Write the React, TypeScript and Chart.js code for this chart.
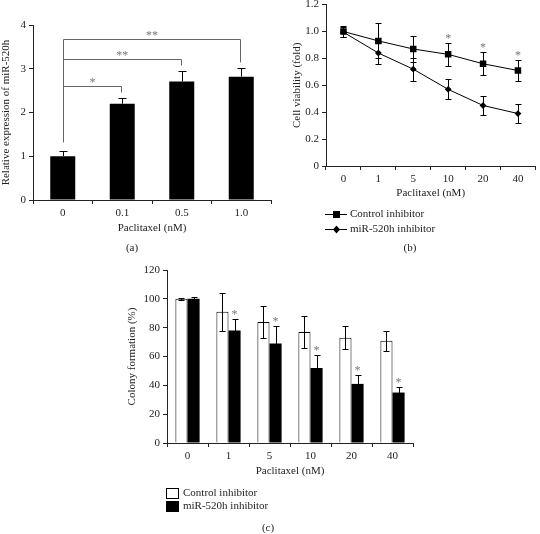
import React, { useEffect, useRef } from 'react';
import { Chart, registerables } from 'chart.js';
Chart.register(...registerables);

const FONT = "'Liberation Serif', 'Times New Roman', serif";
const TXT = '#222';
const AX = '#222';
const SIG = '#777';

// ---------- Panel (a) ----------
const doseA = ['0', '0.1', '0.5', '1.0'];
const exprA = [1.0, 2.2, 2.71, 2.82];
const exprErrA = [0.11, 0.14, 0.23, 0.19];
const bracketToA = [1, 2, 3];
const bracketLevelA = [2.61, 3.22, 3.68];
const bracketDropA = [2.48, 3.08, 3.15];
const bracketLabelA = ['*', '**', '**'];
const bracketStartA = 1.33;

// ---------- Panel (b) ----------
const doseB = ['0', '1', '5', '10', '20', '40'];
const viabCtrl = [1.0, 0.93, 0.87, 0.83, 0.76, 0.71];
const viabCtrlErr = [0.04, 0.13, 0.095, 0.085, 0.085, 0.075];
const viabMir = [0.995, 0.84, 0.72, 0.57, 0.45, 0.39];
const viabMirErr = [0.035, 0.08, 0.085, 0.075, 0.07, 0.07];
const viabSig = ['', '', '', '*', '*', '*'];

// ---------- Panel (c) ----------
const doseC = ['0', '1', '5', '10', '20', '40'];
const colCtrl = [100, 91, 84, 77, 73, 71];
const colCtrlErr = [0.8, 13, 11, 11, 8, 7];
const colMir = [100, 78, 69, 52, 41, 35];
const colMirErr = [1.4, 8, 12, 9, 6, 4];
const colSig = ['', '*', '*', '*', '*', '*'];

const seriesNames = ['Control inhibitor', 'miR-520h inhibitor'];

const font = (size = 11) => ({ family: FONT, size });

const errorBarPlugin = {
  id: 'errorBars',
  afterDatasetsDraw(chart: any, _args: any, opts: any) {
    const { ctx } = chart;
    const ys = chart.scales.y;
    const errs: number[][] = opts.errors || [];
    const cap: number = opts.cap || 3;
    errs.forEach((arr, di) => {
      const meta = chart.getDatasetMeta(di);
      const ds = chart.data.datasets[di];
      const lower = opts.lower ? opts.lower[di] : true;
      meta.data.forEach((el: any, i: number) => {
        const v = ds.data[i] as number;
        const e = arr[i];
        const x = Math.round(el.x) + 0.5;
        const yT = Math.round(ys.getPixelForValue(v + e)) + 0.5;
        const yB = Math.round(ys.getPixelForValue(v - e)) + 0.5;
        const yM = ys.getPixelForValue(v);
        ctx.save();
        ctx.strokeStyle = opts.color || '#000';
        ctx.lineWidth = 1;
        ctx.beginPath();
        ctx.moveTo(x, yT);
        ctx.lineTo(x, lower ? yB : yM);
        ctx.moveTo(x - cap, yT);
        ctx.lineTo(x + cap, yT);
        if (lower) {
          ctx.moveTo(x - cap, yB);
          ctx.lineTo(x + cap, yB);
        }
        ctx.stroke();
        ctx.restore();
      });
    });
  },
};

function drawStar(ctx: CanvasRenderingContext2D, text: string, x: number, yCenter: number) {
  ctx.save();
  ctx.fillStyle = SIG;
  ctx.font = `12px ${FONT}`;
  ctx.textAlign = 'center';
  ctx.textBaseline = 'alphabetic';
  ctx.fillText(text, x, yCenter + 6);
  ctx.restore();
}

function drawLabel(ctx: CanvasRenderingContext2D, text: string, x: number, y: number, align: CanvasTextAlign = 'center') {
  ctx.save();
  ctx.fillStyle = TXT;
  ctx.font = `11px ${FONT}`;
  ctx.textAlign = align;
  ctx.textBaseline = 'middle';
  ctx.fillText(text, x, y);
  ctx.restore();
}

const axisCommon = (extra: any = {}) => ({
  grid: { drawOnChartArea: false, drawTicks: true, tickLength: 4, color: AX, lineWidth: 1, ...(extra.grid || {}) },
  border: { display: true, color: AX, width: 1 },
  ticks: { color: TXT, font: font(11), padding: 3, ...(extra.ticks || {}) },
});

export default function App() {
  const refA = useRef<HTMLCanvasElement>(null);
  const refB = useRef<HTMLCanvasElement>(null);
  const refC = useRef<HTMLCanvasElement>(null);

  useEffect(() => {
    Chart.defaults.font.family = FONT;
    Chart.defaults.color = TXT;

    const annotA = {
      id: 'annotA',
      afterDraw(chart: any) {
        const { ctx } = chart;
        const xs = chart.scales.x, ys = chart.scales.y;
        ctx.save();
        ctx.strokeStyle = '#666';
        ctx.lineWidth = 1;
        const x0 = Math.round(xs.getPixelForValue(0)) + 0.5;
        const topLevel = Math.max(...bracketLevelA);
        ctx.beginPath();
        ctx.moveTo(x0, Math.round(ys.getPixelForValue(bracketStartA)) + 0.5);
        ctx.lineTo(x0, Math.round(ys.getPixelForValue(topLevel)) + 0.5);
        bracketToA.forEach((to, k) => {
          const x1 = Math.round(xs.getPixelForValue(to)) - 0.5;
          const yL = Math.round(ys.getPixelForValue(bracketLevelA[k])) + 0.5;
          const yD = Math.round(ys.getPixelForValue(bracketDropA[k])) + 0.5;
          ctx.moveTo(x0, yL);
          ctx.lineTo(x1, yL);
          ctx.lineTo(x1, yD);
        });
        ctx.stroke();
        ctx.restore();
        bracketToA.forEach((to, k) => {
          const xm = (xs.getPixelForValue(0) + xs.getPixelForValue(to)) / 2;
          drawStar(ctx, bracketLabelA[k], xm, ys.getPixelForValue(bracketLevelA[k]) - 6);
        });
        drawLabel(ctx, '(a)', 132, 248);
      },
    };

    const chartA = new Chart(refA.current!, {
      type: 'bar',
      data: {
        labels: doseA,
        datasets: [
          { data: exprA, backgroundColor: '#000', borderWidth: 0, categoryPercentage: 0.42, barPercentage: 1 },
        ],
      },
      options: {
        animation: false,
        responsive: false,
        devicePixelRatio: 1,
        layout: { padding: { left: 0, top: 25, right: 4, bottom: 0 } },
        plugins: {
          legend: { display: false },
          tooltip: { enabled: false },
          errorBars: { errors: [exprErrA], lower: [false], cap: 4, color: '#000' },
        } as any,
        scales: {
          x: {
            ...axisCommon({ grid: { offset: true } }),
            title: { display: true, text: 'Paclitaxel (nM)', color: TXT, font: font(11), padding: { top: 0, bottom: 27 } },
            afterFit: (s: any) => { s.height = 62; s.paddingLeft = 0; s.paddingRight = 0; },
          },
          y: {
            ...axisCommon(),
            min: 0,
            max: 4,
            ticks: { color: TXT, font: font(11), padding: 3, stepSize: 1 },
            title: { display: true, text: 'Relative expression of miR-520h', color: TXT, font: font(11), padding: { top: 0, bottom: 0 } },
            afterFit: (s: any) => { s.width = 33; s.paddingTop = 0; s.paddingBottom = 0; },
          },
        },
      },
      plugins: [errorBarPlugin, annotA],
    });

    const annotB = {
      id: 'annotB',
      afterDraw(chart: any) {
        const { ctx } = chart;
        const ys = chart.scales.y;
        const meta = chart.getDatasetMeta(0);
        viabSig.forEach((s, i) => {
          if (!s) return;
          const el: any = meta.data[i];
          drawStar(ctx, s, el.x, ys.getPixelForValue(viabCtrl[i] + viabCtrlErr[i]) - 7);
        });
        // legend
        const rows = [214, 229];
        rows.forEach((y, k) => {
          const yy = Math.round(y) + 0.5;
          ctx.save();
          ctx.strokeStyle = '#000';
          ctx.fillStyle = '#000';
          ctx.lineWidth = 1;
          ctx.beginPath();
          ctx.moveTo(55, yy);
          ctx.lineTo(77, yy);
          ctx.stroke();
          if (k === 0) {
            ctx.fillRect(63, y - 3, 7, 7);
          } else {
            ctx.beginPath();
            ctx.moveTo(66.5, y - 3.5);
            ctx.lineTo(70, y + 0.5);
            ctx.lineTo(66.5, y + 4.5);
            ctx.lineTo(63, y + 0.5);
            ctx.closePath();
            ctx.fill();
          }
          ctx.restore();
          drawLabel(ctx, seriesNames[k], 80, y, 'left');
        });
        drawLabel(ctx, '(b)', 140, 248);
      },
    };

    const chartB = new Chart(refB.current!, {
      type: 'line',
      data: {
        labels: doseB,
        datasets: [
          {
            label: seriesNames[0], data: viabCtrl, borderColor: '#000', backgroundColor: '#000', borderWidth: 1,
            pointStyle: 'rect', pointRadius: 4.6, pointBorderWidth: 0, pointBackgroundColor: '#000',
          },
          {
            label: seriesNames[1], data: viabMir, borderColor: '#000', backgroundColor: '#000', borderWidth: 1,
            pointStyle: 'rectRot', pointRadius: 3.4, pointBorderWidth: 0, pointBackgroundColor: '#000',
          },
        ],
      },
      options: {
        animation: false,
        responsive: false,
        devicePixelRatio: 1,
        layout: { padding: { left: 0, top: 4, right: 1, bottom: 62 } },
        plugins: {
          legend: { display: false },
          tooltip: { enabled: false },
          errorBars: { errors: [viabCtrlErr, viabMirErr], cap: 3, color: '#000' },
        } as any,
        scales: {
          x: {
            type: 'category',
            offset: true,
            ...axisCommon({ grid: { offset: true } }),
            title: { display: true, text: 'Paclitaxel (nM)', color: TXT, font: font(11), padding: { top: 0, bottom: 0 } },
            afterFit: (s: any) => { s.height = 34; s.paddingLeft = 0; s.paddingRight = 0; },
          },
          y: {
            ...axisCommon(),
            min: 0,
            max: 1.2,
            ticks: {
              color: TXT, font: font(11), padding: 3, stepSize: 0.2,
              callback: (v: any) => (Math.abs(v) < 1e-9 ? '0' : Number(v).toFixed(1)),
            },
            title: { display: true, text: 'Cell viability (fold)', color: TXT, font: font(11), padding: { top: 20.4, bottom: 0 } },
            afterFit: (s: any) => { s.width = 56; s.paddingTop = 0; s.paddingBottom = 0; },
          },
        },
      },
      plugins: [errorBarPlugin, annotB],
    });

    const annotC = {
      id: 'annotC',
      afterDraw(chart: any) {
        const { ctx } = chart;
        const ys = chart.scales.y;
        const meta = chart.getDatasetMeta(1);
        colSig.forEach((s, i) => {
          if (!s) return;
          const el: any = meta.data[i];
          drawStar(ctx, s, el.x, ys.getPixelForValue(colMir[i] + colMirErr[i]) - 7);
        });
        const rows = [231, 244];
        rows.forEach((y, k) => {
          ctx.save();
          if (k === 0) {
            ctx.fillStyle = '#fff';
            ctx.fillRect(66, y - 5, 12, 11);
            ctx.strokeStyle = '#000';
            ctx.lineWidth = 1;
            ctx.strokeRect(66.5, y - 5 + 0.5, 12, 10);
          } else {
            ctx.fillStyle = '#000';
            ctx.fillRect(66, y - 5, 13, 11);
          }
          ctx.restore();
          drawLabel(ctx, seriesNames[k], 83, y, 'left');
        });
        drawLabel(ctx, '(c)', 168, 266);
      },
    };

    const chartC = new Chart(refC.current!, {
      type: 'bar',
      data: {
        labels: doseC,
        datasets: [
          {
            label: seriesNames[0], data: colCtrl, backgroundColor: '#fff', borderColor: '#000', borderWidth: 1,
            categoryPercentage: 0.59, barPercentage: 1,
          },
          {
            label: seriesNames[1], data: colMir, backgroundColor: '#000', borderColor: '#000', borderWidth: 0,
            categoryPercentage: 0.59, barPercentage: 1,
          },
        ],
      },
      options: {
        animation: false,
        responsive: false,
        devicePixelRatio: 1,
        layout: { padding: { left: 0, top: 8, right: 27, bottom: 56.4 } },
        plugins: {
          legend: { display: false },
          tooltip: { enabled: false },
          errorBars: { errors: [colCtrlErr, colMirErr], cap: 3, color: '#000' },
        } as any,
        scales: {
          x: {
            ...axisCommon({ grid: { offset: true } }),
            title: { display: true, text: 'Paclitaxel (nM)', color: TXT, font: font(11), padding: { top: 0, bottom: 0 } },
            afterFit: (s: any) => { s.height = 34.6; s.paddingLeft = 0; s.paddingRight = 0; },
          },
          y: {
            ...axisCommon(),
            min: 0,
            max: 120,
            ticks: { color: TXT, font: font(11), padding: 3, stepSize: 20 },
            title: { display: true, text: 'Colony formation (%)', color: TXT, font: font(11), padding: { top: 25.4, bottom: 0 } },
            afterFit: (s: any) => { s.width = 67; s.paddingTop = 0; s.paddingBottom = 0; },
          },
        },
      },
      plugins: [errorBarPlugin, annotC],
    });

    return () => {
      chartA.destroy();
      chartB.destroy();
      chartC.destroy();
    };
  }, []);

  return (
    <div style={{ position: 'absolute', left: 0, top: 0, width: 540, height: 534, background: '#fff', overflow: 'hidden' }}>
      <canvas ref={refA} width={275} height={262} style={{ position: 'absolute', left: 0, top: 0, width: 275, height: 262 }} />
      <canvas ref={refB} width={270} height={262} style={{ position: 'absolute', left: 270, top: 0, width: 270, height: 262 }} />
      <canvas ref={refC} width={340} height={272} style={{ position: 'absolute', left: 100, top: 262, width: 340, height: 272 }} />
    </div>
  );
}
